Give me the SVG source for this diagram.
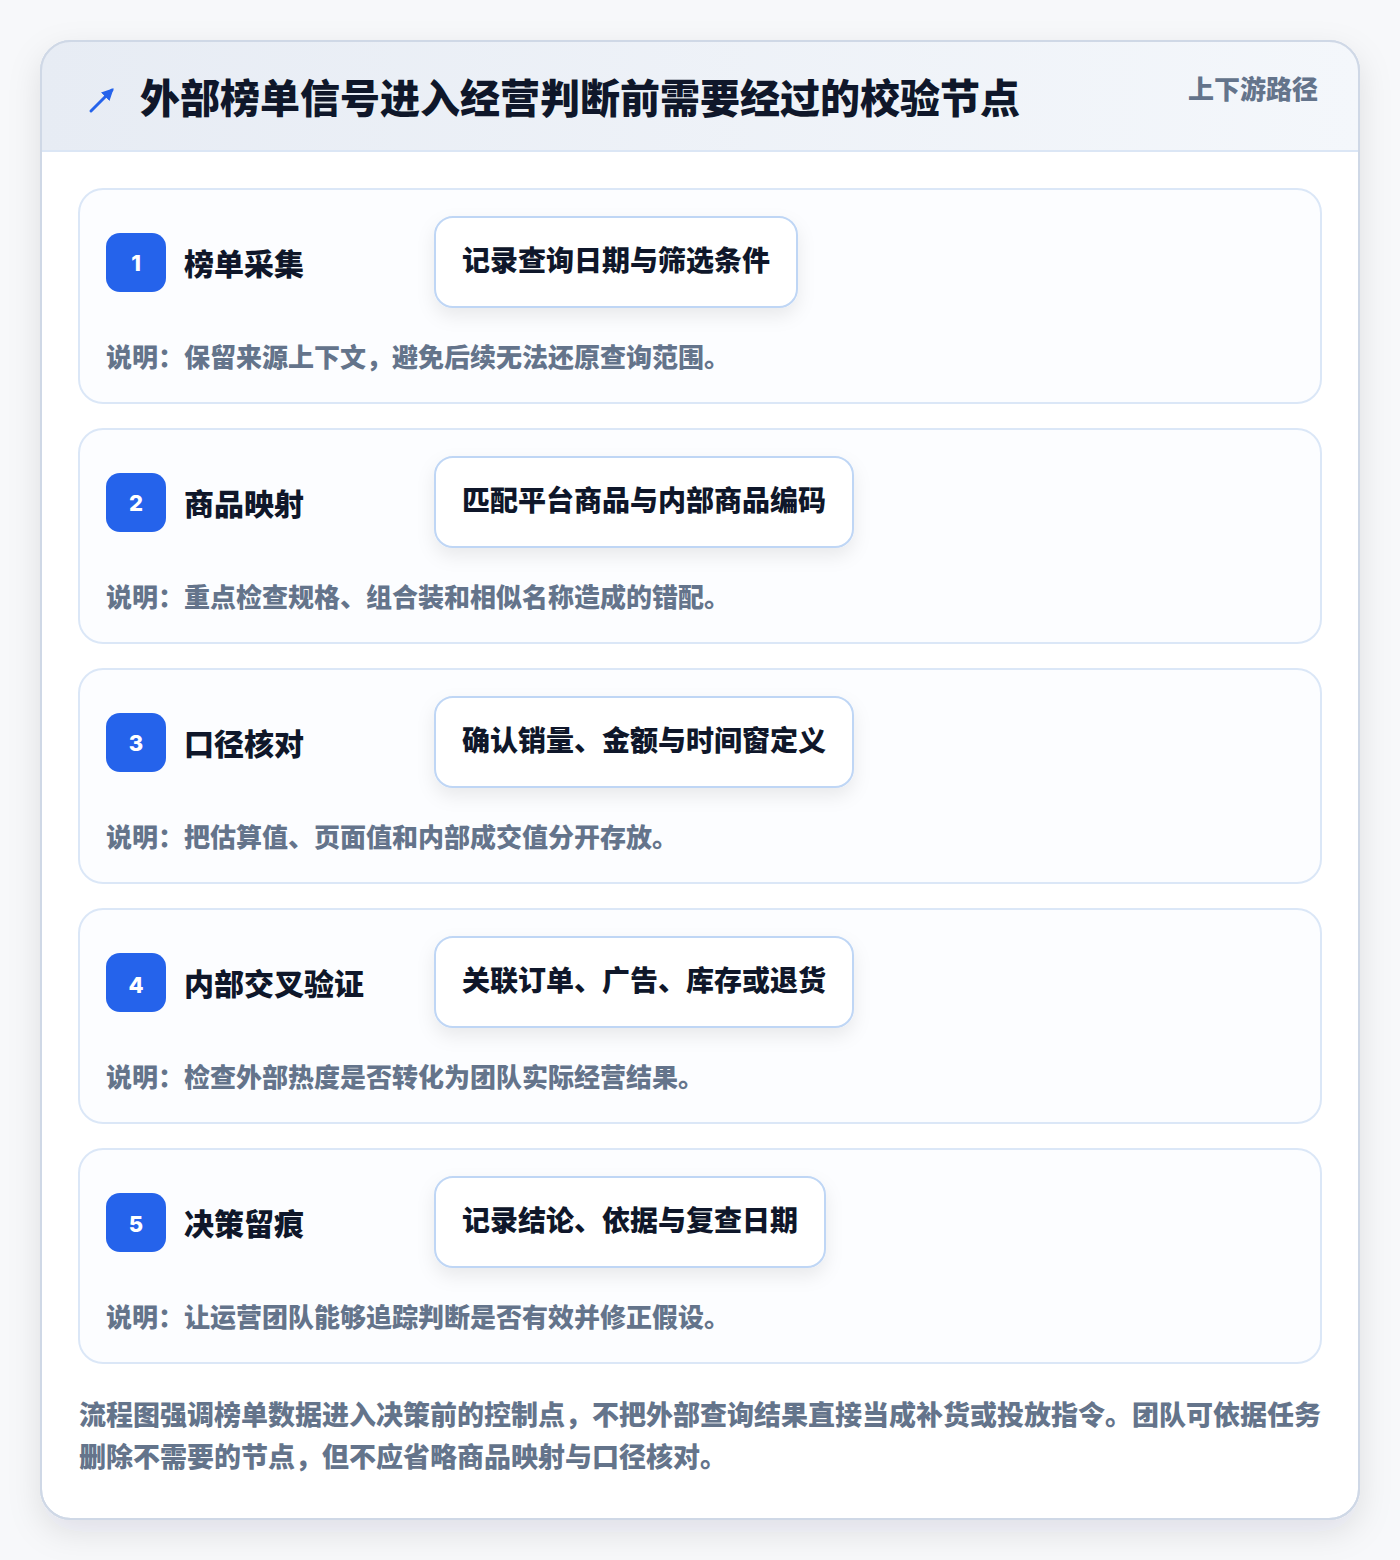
<svg xmlns="http://www.w3.org/2000/svg" width="1400" height="1560" viewBox="0 0 1400 1560">
<defs>
<style>
.cjk{font-family:"Noto Sans CJK SC","Noto Sans",sans-serif;font-weight:900}
.title{font-size:40px;fill:#0f172a}
.sub{font-size:26px;fill:#64748b}
.card{fill:#fcfdff;stroke:#dbe7f7;stroke-width:2}
.badge{fill:#2563eb}
.num{font-family:"Inter","Noto Sans",sans-serif;font-weight:800;font-size:22px;fill:#ffffff}
.label{font-size:30px;fill:#0f172a}
.pill{fill:#ffffff;stroke:#bfd6f5;stroke-width:2}
.pilltext{font-size:28px;fill:#0f172a}
.desc{font-size:26px;fill:#64748b}
.foot{font-size:27px;fill:#64748b}
</style>
<linearGradient id="hdr" x1="0" y1="0" x2="1" y2="0">
<stop offset="0" stop-color="#e7ecf4"/>
<stop offset="1" stop-color="#f4f7fb"/>
</linearGradient>
<filter id="outerShadow" x="-10%" y="-10%" width="120%" height="120%">
<feDropShadow dx="0" dy="12" stdDeviation="16" flood-color="#0f172a" flood-opacity="0.10"/>
</filter>
<filter id="pillShadow" x="-20%" y="-40%" width="140%" height="200%">
<feDropShadow dx="0" dy="8" stdDeviation="9" flood-color="#0f172a" flood-opacity="0.08"/>
</filter>
<clipPath id="outerClip"><rect x="41" y="41" width="1318" height="1478" rx="30"/></clipPath>
<marker id="ah" viewBox="0 0 10 10" refX="8" refY="5" markerWidth="4" markerHeight="4" orient="auto"><path d="M0,0 L10,5 L0,10 z" fill="#2563eb"/></marker>
</defs>
<rect x="0" y="0" width="1400" height="1560" fill="#f7f8fa"/>
<g id="frame">
<rect x="41" y="41" width="1318" height="1478" rx="30" fill="#ffffff" stroke="#cfd8e6" stroke-width="2" filter="url(#outerShadow)"/>
<g clip-path="url(#outerClip)">
<rect x="41" y="41" width="1318" height="110" fill="url(#hdr)"/>
<line x1="41" y1="151" x2="1359" y2="151" stroke="#dbe6f5" stroke-width="2"/>
</g>
<rect x="41" y="41" width="1318" height="1478" rx="30" fill="none" stroke="#cfd8e6" stroke-width="2"/>
</g>
<g id="header">
<line x1="91" y1="111" x2="112" y2="90" stroke="#2563eb" stroke-width="3" stroke-linecap="round" marker-end="url(#ah)"/>
<text class="cjk title" x="140" y="113">外部榜单信号进入经营判断前需要经过的校验节点</text>
<text class="cjk sub" x="1318" y="99" text-anchor="end">上下游路径</text>
</g>
<g id="step1">
<rect class="card" x="79" y="189" width="1242" height="214" rx="24"/>
<rect class="badge" x="106" y="233" width="60" height="59" rx="14"/>
<text class="num" x="136" y="271" text-anchor="middle">1</text>
<text class="cjk label" x="184" y="275">榜单采集</text>
<rect class="pill" x="435" y="217" width="362" height="90" rx="18" filter="url(#pillShadow)"/>
<text class="cjk pilltext" x="462" y="271">记录查询日期与筛选条件</text>
<text class="cjk desc" x="106" y="367">说明：保留来源上下文，避免后续无法还原查询范围。</text>
</g>
<g id="step2">
<rect class="card" x="79" y="429" width="1242" height="214" rx="24"/>
<rect class="badge" x="106" y="473" width="60" height="59" rx="14"/>
<text class="num" x="136" y="511" text-anchor="middle">2</text>
<text class="cjk label" x="184" y="515">商品映射</text>
<rect class="pill" x="435" y="457" width="418" height="90" rx="18" filter="url(#pillShadow)"/>
<text class="cjk pilltext" x="462" y="511">匹配平台商品与内部商品编码</text>
<text class="cjk desc" x="106" y="607">说明：重点检查规格、组合装和相似名称造成的错配。</text>
</g>
<g id="step3">
<rect class="card" x="79" y="669" width="1242" height="214" rx="24"/>
<rect class="badge" x="106" y="713" width="60" height="59" rx="14"/>
<text class="num" x="136" y="751" text-anchor="middle">3</text>
<text class="cjk label" x="184" y="755">口径核对</text>
<rect class="pill" x="435" y="697" width="418" height="90" rx="18" filter="url(#pillShadow)"/>
<text class="cjk pilltext" x="462" y="751">确认销量、金额与时间窗定义</text>
<text class="cjk desc" x="106" y="847">说明：把估算值、页面值和内部成交值分开存放。</text>
</g>
<g id="step4">
<rect class="card" x="79" y="909" width="1242" height="214" rx="24"/>
<rect class="badge" x="106" y="953" width="60" height="59" rx="14"/>
<text class="num" x="136" y="993" text-anchor="middle">4</text>
<text class="cjk label" x="184" y="995">内部交叉验证</text>
<rect class="pill" x="435" y="937" width="418" height="90" rx="18" filter="url(#pillShadow)"/>
<text class="cjk pilltext" x="462" y="991">关联订单、广告、库存或退货</text>
<text class="cjk desc" x="106" y="1087">说明：检查外部热度是否转化为团队实际经营结果。</text>
</g>
<g id="step5">
<rect class="card" x="79" y="1149" width="1242" height="214" rx="24"/>
<rect class="badge" x="106" y="1193" width="60" height="59" rx="14"/>
<text class="num" x="136" y="1232" text-anchor="middle">5</text>
<text class="cjk label" x="184" y="1235">决策留痕</text>
<rect class="pill" x="435" y="1177" width="390" height="90" rx="18" filter="url(#pillShadow)"/>
<text class="cjk pilltext" x="462" y="1231">记录结论、依据与复查日期</text>
<text class="cjk desc" x="106" y="1327">说明：让运营团队能够追踪判断是否有效并修正假设。</text>
</g>
<g id="connectors"></g>
<g id="footer">
<text class="cjk foot" x="79" y="1425">流程图强调榜单数据进入决策前的控制点，不把外部查询结果直接当成补货或投放指令。团队可依据任务</text>
<text class="cjk foot" x="79" y="1467">删除不需要的节点，但不应省略商品映射与口径核对。</text>
</g>
</svg>
